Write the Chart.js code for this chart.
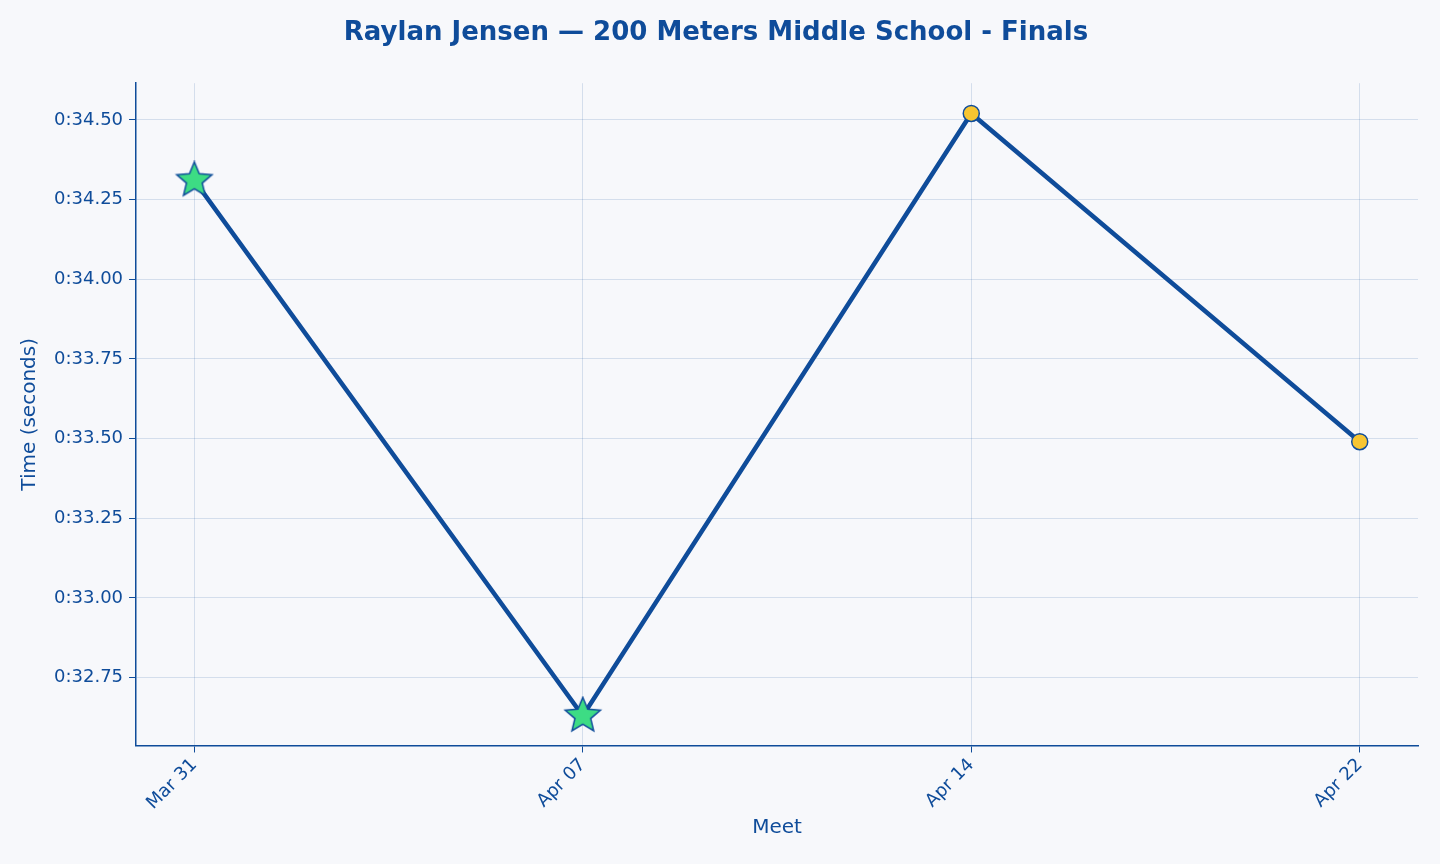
<!DOCTYPE html>
<html><head><meta charset="utf-8">
<script src="https://cdn.jsdelivr.net/npm/chart.js@4/dist/chart.umd.min.js"></script>
<style>html,body{margin:0;padding:0;background:#f7f8fb}#w{width:1440px;height:864px}</style>
</head><body><div id="w"><canvas id="c"></canvas></div>
<script>
const categories = ["Mar 31","Apr 07","Apr 14","Apr 22"];
const times = [34.31, 32.63, 34.52, 33.49];
const isPR = [true, true, false, false];
const yTicks = [32.75, 33.00, 33.25, 33.50, 33.75, 34.00, 34.25, 34.50];
const blue = '#0f4c9a';

function star(size){
  const c=document.createElement('canvas');c.width=c.height=size;const g=c.getContext('2d');
  const cx=size/2,cy=size/2,R=size/2-1.5,r=R*0.45;g.beginPath();
  for(let i=0;i<10;i++){const a=-Math.PI/2+i*Math.PI/5;const rr=i%2?r:R;g.lineTo(cx+rr*Math.cos(a),cy+rr*Math.sin(a));}
  g.closePath();g.fillStyle='#3ddc84';g.fill();g.lineWidth=1.5;g.strokeStyle=blue;g.stroke();return c;
}
const starImg = star(40);
Chart.defaults.font.family = 'DejaVu Sans';
new Chart(document.getElementById('c'),{
  type:'line',
  data:{datasets:[{data:times.map((t,i)=>({x:i,y:t})),borderColor:blue,borderWidth:4.5,
    pointStyle:isPR.map(p=>p?starImg:'circle'),pointRadius:8,pointBackgroundColor:'#f7c531',pointBorderColor:blue,pointBorderWidth:1.5,tension:0}]},
  options:{responsive:true,maintainAspectRatio:false,animation:false,
    layout:{padding:{left:14,right:22,top:10,bottom:20}},
    plugins:{legend:{display:false},tooltip:{enabled:false},
      title:{display:true,text:'Raylan Jensen — 200 Meters Middle School - Finals',color:blue,font:{size:26,weight:'bold'},padding:{top:8,bottom:34}}},
    scales:{
      x:{type:'linear',min:-0.15,max:3.15,afterBuildTicks:a=>{a.ticks=categories.map((_,i)=>({value:i}));},
        ticks:{callback:v=>categories[v],color:blue,font:{size:18},minRotation:45,maxRotation:45,padding:2},
        grid:{color:'rgba(15,76,154,0.15)',tickColor:blue,tickLength:7},border:{color:blue,width:1.5},
        title:{display:true,text:'Meet',color:blue,font:{size:20},padding:{top:0}}},
      y:{min:32.537,max:34.615,afterBuildTicks:a=>{a.ticks=yTicks.map(v=>({value:v}));},
        ticks:{callback:v=>'0:'+v.toFixed(2),color:blue,font:{size:18},padding:6},
        grid:{color:'rgba(15,76,154,0.15)',tickColor:blue,tickLength:7},border:{color:blue,width:1.5},
        title:{display:true,text:'Time (seconds)',color:blue,font:{size:20},padding:{bottom:6}}}
    }}
});
</script></body></html>
